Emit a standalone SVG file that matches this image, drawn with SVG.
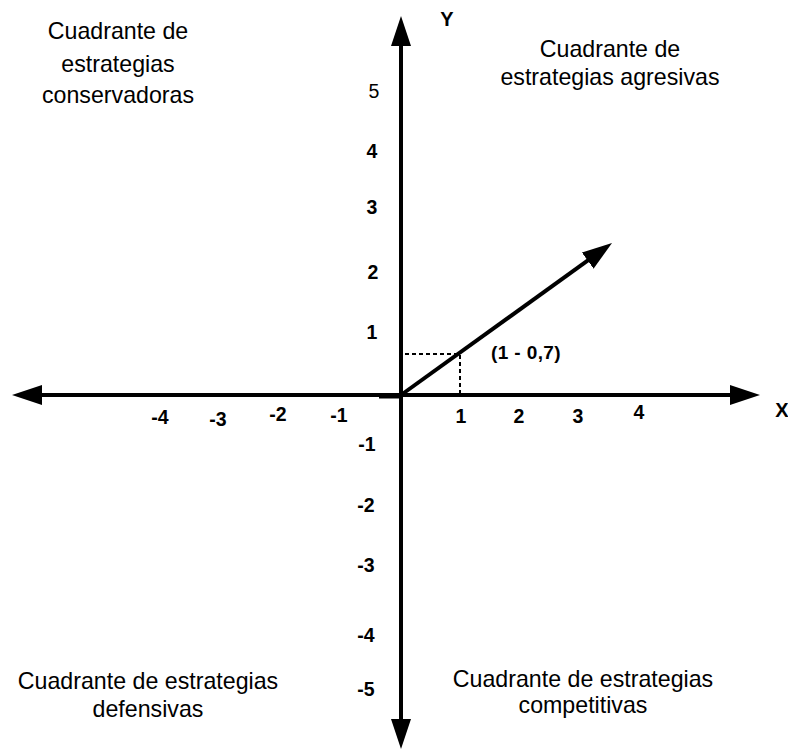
<svg xmlns="http://www.w3.org/2000/svg" width="788" height="749" viewBox="0 0 788 749">
<style>
.q{font-family:"Liberation Sans",Arial,sans-serif;font-size:23.2px;fill:#000;text-anchor:middle}
.n{font-family:"Liberation Sans",Arial,sans-serif;font-size:19.5px;font-weight:bold;fill:#000;text-anchor:middle}
.ax{stroke:#000;stroke-width:4;fill:none}
.dash{stroke:#000;stroke-width:2;stroke-dasharray:4,3;fill:none}
</style>
<defs>
<marker id="ah" viewBox="0 0 30 20" refX="2" refY="10" markerWidth="30" markerHeight="20" markerUnits="userSpaceOnUse" orient="auto">
<path d="M0,0 L30,10 L0,20 Z" fill="#000"/>
</marker>
</defs>
<rect width="788" height="749" fill="#fff"/>
<g id="connectors">
<line class="ax" x1="401" y1="395" x2="401" y2="44" marker-end="url(#ah)"/>
<line class="ax" x1="401" y1="395" x2="401" y2="721" marker-end="url(#ah)"/>
<line class="ax" x1="401" y1="395" x2="40" y2="395" marker-end="url(#ah)"/>
<line class="ax" x1="401" y1="395" x2="732" y2="395" marker-end="url(#ah)"/>
<line class="ax" x1="401" y1="395" x2="589.3" y2="259.4" marker-end="url(#ah)"/>
<line stroke="#000" stroke-width="3" x1="379" y1="397" x2="401" y2="397"/>
<polyline class="dash" points="405,354 460,354 460,394"/>
</g>
<g id="axis-labels">
<text class="n" x="447" y="26" style="font-size:20px">Y</text>
<text class="n" x="782" y="417" style="font-size:20px">X</text>
</g>
<g id="x-ticks">
<text class="n" x="160" y="424">-4</text>
<text class="n" x="218" y="426">-3</text>
<text class="n" x="278" y="421">-2</text>
<text class="n" x="339" y="422">-1</text>
<text class="n" x="461" y="423">1</text>
<text class="n" x="519" y="423">2</text>
<text class="n" x="578" y="423">3</text>
<text class="n" x="639" y="419">4</text>
</g>
<g id="y-ticks">
<text class="n" x="374" y="98" style="font-weight:normal">5</text>
<text class="n" x="372" y="158">4</text>
<text class="n" x="372" y="214">3</text>
<text class="n" x="373" y="279">2</text>
<text class="n" x="372" y="339">1</text>
<text class="n" x="367" y="451">-1</text>
<text class="n" x="366" y="512">-2</text>
<text class="n" x="366" y="572">-3</text>
<text class="n" x="366" y="642">-4</text>
<text class="n" x="366" y="696">-5</text>
</g>
<g id="point-label">
<text class="n" x="526" y="359" style="font-size:19px" letter-spacing="0.4">(1 - 0,7)</text>
</g>
<g id="q-conservadoras">
<text class="q" x="118" y="39">Cuadrante de</text>
<text class="q" x="118" y="72">estrategias</text>
<text class="q" x="118" y="103">conservadoras</text>
</g>
<g id="q-agresivas">
<text class="q" x="610" y="57">Cuadrante de</text>
<text class="q" x="610" y="85">estrategias agresivas</text>
</g>
<g id="q-defensivas">
<text class="q" x="148" y="689">Cuadrante de estrategias</text>
<text class="q" x="148" y="717">defensivas</text>
</g>
<g id="q-competitivas">
<text class="q" x="583" y="687">Cuadrante de estrategias</text>
<text class="q" x="583" y="713">competitivas</text>
</g>
</svg>
